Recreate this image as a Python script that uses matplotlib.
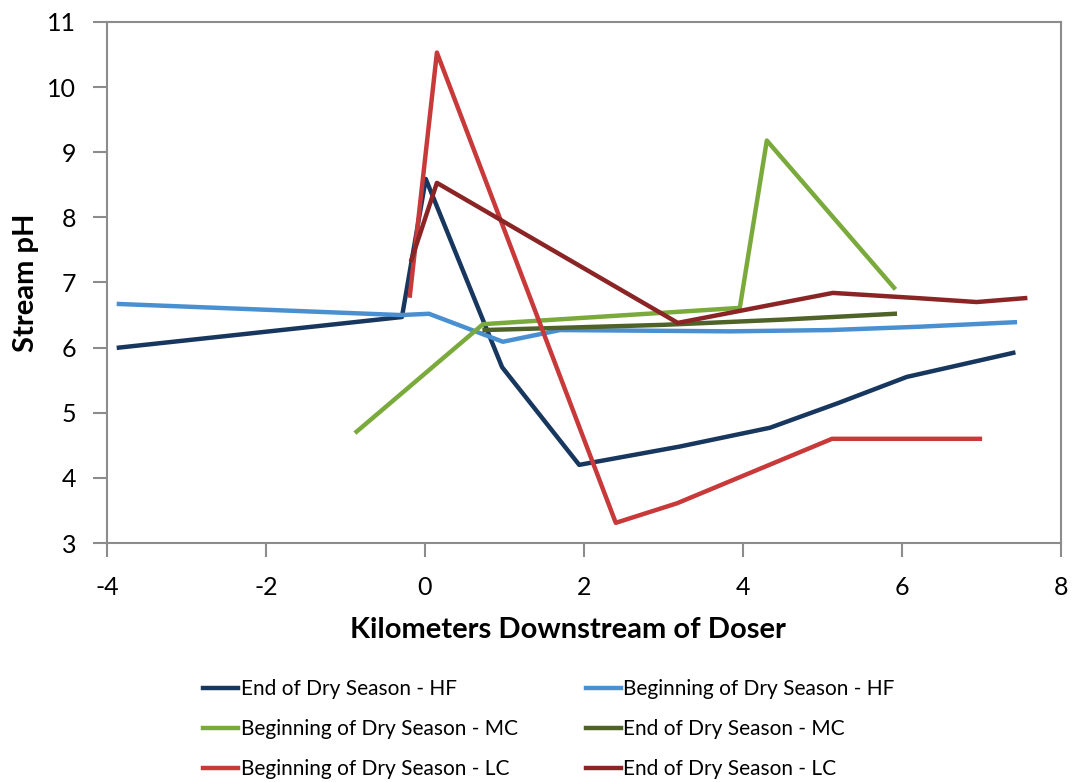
import numpy as np
import matplotlib.pyplot as plt

plt.rcParams['font.family'] = ['Lato', 'DejaVu Sans']
plt.rcParams['axes.unicode_minus'] = False

# End of Dry Season - HF
end_hf_x = [-3.85, -0.29, 0.01, 0.97, 1.94, 3.2, 4.34, 5.2, 6.06, 7.40]
end_hf_y = [6.00, 6.47, 8.59, 5.70, 4.20, 4.48, 4.77, 5.15, 5.55, 5.92]

# Beginning of Dry Season - HF
beg_hf_x = [-3.85, -0.3, 0.05, 0.98, 1.7, 3.84, 5.1, 6.2, 7.42]
beg_hf_y = [6.67, 6.50, 6.52, 6.09, 6.27, 6.25, 6.27, 6.32, 6.39]

# Beginning of Dry Season - MC
beg_mc_x = [-0.86, 0.73, 3.96, 4.30, 5.90]
beg_mc_y = [4.71, 6.36, 6.61, 9.18, 6.92]

# End of Dry Season - MC
end_mc_x = [0.75, 3.0, 4.5, 5.91]
end_mc_y = [6.27, 6.35, 6.43, 6.52]

# Beginning of Dry Season - LC
beg_lc_x = [-0.19, 0.15, 2.40, 3.17, 5.12, 6.98]
beg_lc_y = [6.80, 10.53, 3.31, 3.61, 4.60, 4.60]

# End of Dry Season - LC
end_lc_x = [-0.17, 0.15, 3.18, 5.13, 6.2, 6.94, 7.55]
end_lc_y = [7.35, 8.53, 6.38, 6.84, 6.76, 6.70, 6.76]

fig = plt.figure(figsize=(10.72, 7.82), dpi=100)
ax = fig.add_axes([0.0998, 0.3056, 0.8899, 0.6663])

lw = 3.2
l1, = ax.plot(end_hf_x, end_hf_y, color='#17375E', lw=lw, label='End of Dry Season - HF')
l2, = ax.plot(beg_hf_x, beg_hf_y, color='#4A90D0', lw=lw, label='Beginning of Dry Season - HF')
l3, = ax.plot(beg_mc_x, beg_mc_y, color='#7AAA3C', lw=lw, label='Beginning of Dry Season - MC')
l4, = ax.plot(end_mc_x, end_mc_y, color='#4F6228', lw=lw, label='End of Dry Season - MC')
l5, = ax.plot(beg_lc_x, beg_lc_y, color='#C8393A', lw=lw, label='Beginning of Dry Season - LC')
l6, = ax.plot(end_lc_x, end_lc_y, color='#8B2424', lw=lw, label='End of Dry Season - LC')

ax.set_xlim(-4, 8)
ax.set_ylim(3, 11)
ax.set_xticks(np.arange(-4, 9, 2))
ax.set_yticks(np.arange(3, 12, 1))
for s in ax.spines.values():
    s.set_color('#8c8c8c')
    s.set_linewidth(1.5)
ax.tick_params(axis='both', direction='out', length=10, width=1.5, color='#8c8c8c',
               labelsize=18, pad=12)
ax.tick_params(axis='x', pad=14)

ax.set_xlabel('Kilometers Downstream of Doser', fontsize=21, fontweight='bold', labelpad=13)
ax.xaxis.label.set_x(0.483)
ax.set_ylabel('Stream pH', fontsize=21, fontweight='bold', labelpad=6)

handles = [l1, l3, l5, l2, l4, l6]
fig.legend(handles=handles, loc='upper left', bbox_to_anchor=(0.182, 0.142), ncol=2,
           frameon=False, fontsize=15, handlelength=1.68, handletextpad=0.1,
           columnspacing=3.3, labelspacing=0.95, borderaxespad=0)

fig.savefig('out.png', dpi=100, facecolor='white')
